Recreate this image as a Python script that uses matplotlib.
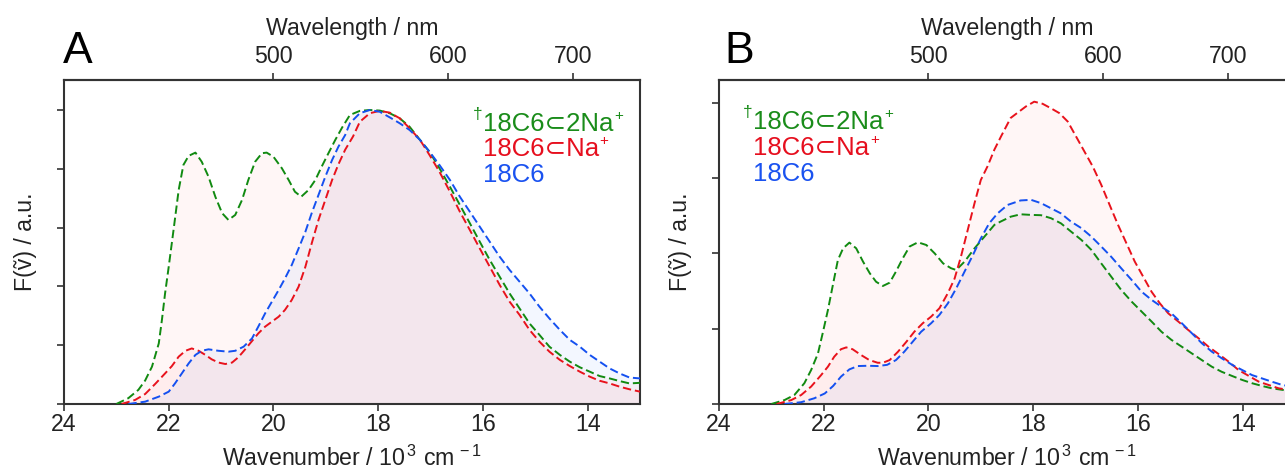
import numpy as np
import matplotlib
matplotlib.use("Agg")
import matplotlib.pyplot as plt

plt.rcParams['font.family'] = ['Liberation Sans', 'DejaVu Sans']
plt.rcParams['mathtext.fontset'] = 'custom'
plt.rcParams['mathtext.rm'] = 'Liberation Sans'
plt.rcParams['mathtext.it'] = 'Liberation Sans:italic'
plt.rcParams['mathtext.bf'] = 'Liberation Sans:bold'

# ---------------- data (wavenumber in 10^3 cm^-1, normalized intensity) -------------
# Panel A
a_green_x = [23.0, 22.77, 22.58, 22.45, 22.32, 22.19, 22.13, 22.07, 22.0, 21.9, 21.81, 21.72, 21.62,
             21.49, 21.37, 21.24, 21.11, 20.98, 20.86, 20.73, 20.6, 20.48, 20.35, 20.22, 20.13, 20.0,
             19.84, 19.71, 19.59, 19.47, 19.33, 19.2, 19.08, 18.95, 18.82, 18.69, 18.54, 18.35, 18.16,
             17.97, 17.78, 17.59, 17.4, 17.2, 17.02, 16.83, 16.63, 16.44, 16.25, 16.06, 15.87, 15.68,
             15.49, 15.3, 15.11, 14.92, 14.73, 14.53, 14.34, 14.15, 13.96, 13.77, 13.58, 13.39, 13.2, 13.0]
a_green_y = [0.0, 0.02, 0.048, 0.08, 0.127, 0.206, 0.286, 0.376, 0.467, 0.603, 0.728, 0.813, 0.844,
             0.855, 0.824, 0.773, 0.705, 0.649, 0.626, 0.643, 0.694, 0.762, 0.824, 0.853, 0.855, 0.841,
             0.802, 0.762, 0.722, 0.705, 0.728, 0.762, 0.807, 0.853, 0.898, 0.94, 0.983, 0.997, 1.0,
             0.998, 0.989, 0.972, 0.943, 0.898, 0.858, 0.802, 0.739, 0.677, 0.615, 0.552, 0.49, 0.433,
             0.376, 0.325, 0.274, 0.235, 0.195, 0.167, 0.144, 0.125, 0.11, 0.095, 0.087, 0.078, 0.07, 0.072]

a_red_x = [22.9, 22.64, 22.45, 22.26, 22.07, 21.94, 21.81, 21.68, 21.56, 21.43, 21.3, 21.18, 21.05,
           20.92, 20.79, 20.67, 20.54, 20.41, 20.29, 20.16, 20.03, 19.9, 19.78, 19.65, 19.52, 19.39,
           19.27, 19.14, 19.01, 18.88, 18.76, 18.63, 18.48, 18.35, 18.16, 17.97, 17.78, 17.59, 17.4,
           17.2, 17.02, 16.83, 16.63, 16.44, 16.25, 16.06, 15.87, 15.68, 15.49, 15.3, 15.11, 14.92,
           14.73, 14.53, 14.34, 14.15, 13.96, 13.77, 13.58, 13.39, 13.2, 13.0]
a_red_y = [0.0, 0.014, 0.034, 0.068, 0.104, 0.129, 0.161, 0.181, 0.189, 0.181, 0.167, 0.152, 0.141,
           0.136, 0.141, 0.159, 0.186, 0.214, 0.24, 0.263, 0.28, 0.297, 0.32, 0.354, 0.399, 0.467,
           0.546, 0.626, 0.694, 0.762, 0.815, 0.865, 0.91, 0.96, 0.989, 0.997, 0.991, 0.972, 0.938,
           0.898, 0.847, 0.79, 0.722, 0.654, 0.592, 0.529, 0.467, 0.405, 0.348, 0.303, 0.252, 0.212,
           0.178, 0.15, 0.129, 0.11, 0.093, 0.079, 0.07, 0.059, 0.05, 0.042]

a_blue_x = [22.77, 22.45, 22.19, 22.0, 21.88, 21.75, 21.62, 21.49, 21.37, 21.24, 21.05, 20.86, 20.73,
            20.57, 20.41, 20.29, 20.16, 20.03, 19.9, 19.78, 19.65, 19.52, 19.39, 19.27, 19.14, 19.01,
            18.88, 18.76, 18.63, 18.54, 18.35, 18.16, 17.97, 17.78, 17.59, 17.4, 17.2, 17.02, 16.83,
            16.63, 16.44, 16.25, 16.06, 15.87, 15.68, 15.49, 15.3, 15.11, 14.92, 14.73, 14.53, 14.34,
            14.15, 13.96, 13.77, 13.58, 13.39, 13.2, 13.0]
a_blue_y = [0.0, 0.008, 0.025, 0.042, 0.07, 0.104, 0.138, 0.167, 0.181, 0.186, 0.181, 0.178, 0.181,
            0.195, 0.223, 0.263, 0.308, 0.348, 0.388, 0.427, 0.473, 0.529, 0.586, 0.649, 0.711, 0.773,
            0.83, 0.875, 0.915, 0.955, 0.989, 1.0, 0.994, 0.975, 0.955, 0.932, 0.898, 0.858, 0.813,
            0.762, 0.705, 0.654, 0.603, 0.552, 0.501, 0.456, 0.416, 0.376, 0.331, 0.291, 0.252, 0.218,
            0.195, 0.167, 0.144, 0.121, 0.104, 0.09, 0.087]

# Panel B
b_green_x = [23.0, 22.75, 22.56, 22.37, 22.24, 22.11, 22.02, 21.92, 21.82, 21.73, 21.63, 21.51, 21.38,
             21.25, 21.12, 21.0, 20.87, 20.74, 20.62, 20.49, 20.36, 20.2, 20.04, 19.88, 19.72, 19.57,
             19.47, 19.31, 19.12, 18.93, 18.74, 18.62, 18.43, 18.24, 18.04, 17.85, 17.66, 17.47, 17.28,
             17.08, 16.89, 16.7, 16.51, 16.32, 16.12, 15.93, 15.74, 15.55, 15.36, 15.16, 14.97, 14.78,
             14.59, 14.4, 14.2, 14.01, 13.82, 13.63, 13.44, 13.24, 13.05]
b_green_y = [0.0, 0.013, 0.03, 0.069, 0.113, 0.168, 0.235, 0.312, 0.40, 0.478, 0.517, 0.536, 0.517,
             0.473, 0.434, 0.406, 0.392, 0.403, 0.44, 0.484, 0.523, 0.537, 0.528, 0.50, 0.467, 0.451,
             0.445, 0.473, 0.517, 0.556, 0.595, 0.606, 0.622, 0.63, 0.628, 0.627, 0.617, 0.60, 0.573,
             0.545, 0.512, 0.467, 0.423, 0.379, 0.34, 0.307, 0.274, 0.24, 0.213, 0.19, 0.168, 0.146,
             0.124, 0.107, 0.093, 0.08, 0.069, 0.06, 0.052, 0.047, 0.043]

b_red_x = [22.9, 22.62, 22.43, 22.24, 22.05, 21.92, 21.8, 21.67, 21.57, 21.45, 21.29, 21.13, 20.97,
           20.87, 20.74, 20.58, 20.42, 20.27, 20.11, 19.95, 19.79, 19.63, 19.5, 19.38, 19.25, 19.12,
           19.0, 18.87, 18.74, 18.61, 18.49, 18.43, 18.27, 18.14, 17.98, 17.82, 17.66, 17.5, 17.34,
           17.18, 17.02, 16.86, 16.7, 16.54, 16.38, 16.22, 16.06, 15.9, 15.74, 15.58, 15.42, 15.23,
           15.04, 14.84, 14.65, 14.46, 14.27, 14.08, 13.88, 13.69, 13.5, 13.31, 13.05]
b_red_y = [0.0, 0.013, 0.03, 0.058, 0.096, 0.124, 0.157, 0.182, 0.188, 0.182, 0.163, 0.146, 0.137,
           0.137, 0.146, 0.174, 0.207, 0.24, 0.268, 0.29, 0.318, 0.368, 0.417, 0.489, 0.578, 0.667,
           0.744, 0.79, 0.845, 0.89, 0.93, 0.95, 0.971, 0.988, 1.004, 0.997, 0.982, 0.966, 0.938,
           0.888, 0.838, 0.788, 0.728, 0.661, 0.595, 0.534, 0.473, 0.423, 0.373, 0.334, 0.301, 0.274,
           0.246, 0.218, 0.19, 0.166, 0.141, 0.113, 0.093, 0.074, 0.063, 0.052, 0.045]

b_blue_x = [22.75, 22.43, 22.18, 21.98, 21.82, 21.67, 21.51, 21.35, 21.16, 20.97, 20.79, 20.62, 20.46,
            20.3, 20.14, 19.95, 19.79, 19.63, 19.47, 19.31, 19.15, 19.0, 18.84, 18.68, 18.49, 18.24,
            18.04, 17.85, 17.66, 17.47, 17.28, 17.08, 16.89, 16.7, 16.51, 16.32, 16.12, 15.93, 15.74,
            15.55, 15.36, 15.16, 14.97, 14.78, 14.59, 14.4, 14.2, 14.01, 13.82, 13.63, 13.44, 13.24, 13.05]
b_blue_y = [0.0, 0.006, 0.019, 0.035, 0.06, 0.091, 0.115, 0.126, 0.127, 0.126, 0.13, 0.146, 0.174,
            0.207, 0.24, 0.268, 0.296, 0.334, 0.384, 0.44, 0.495, 0.55, 0.60, 0.633, 0.661, 0.676,
            0.678, 0.667, 0.65, 0.633, 0.606, 0.584, 0.556, 0.523, 0.489, 0.451, 0.412, 0.373, 0.346,
            0.323, 0.301, 0.268, 0.235, 0.202, 0.174, 0.152, 0.13, 0.113, 0.096, 0.085, 0.074, 0.063, 0.058]

series_labels = ["18C6\u22822Na", "18C6\u2282Na", "18C6"]
x_ticks = [24, 22, 20, 18, 16, 14]
nm_ticks = [500, 600, 700]
panel_letters = ["A", "B"]

# ---------------- style ----------------
GREEN, RED, BLUE = '#118a11', '#e8121c', '#1450f0'
TGREEN, TRED, TBLUE = '#1a8c1a', '#e60f1e', '#1a52f0'
SPINE = '#333333'
TXT = '#222222'
FS = 16.7

fig = plt.figure(figsize=(12.85, 4.70), dpi=100)
W, H = 1285.0, 470.0
axA = fig.add_axes([64 / W, 66 / H, 576 / W, 324 / H])
axB = fig.add_axes([719 / W, 66 / H, 576 / W, 324 / H])


def k2nm(k):
    k = np.asarray(k, dtype=float)
    with np.errstate(divide='ignore', invalid='ignore'):
        return np.where(k > 0, 1e4 / np.where(k > 0, k, 1.0), 1e9)


def style_axes(ax, ymax, yticks):
    ax.set_xlim(24, 13.0)
    ax.set_ylim(0, ymax)
    ax.set_xticks(x_ticks)
    ax.set_xticklabels([str(t) for t in x_ticks])
    ax.set_yticks(yticks)
    ax.set_yticklabels([])
    for s in ['left', 'bottom', 'top', 'right']:
        ax.spines[s].set_color(SPINE)
        ax.spines[s].set_linewidth(1.5)
    ax.tick_params(direction='out', length=5, width=1.2, color=SPINE,
                   labelsize=FS, labelcolor=TXT, pad=1.5)
    ax.set_xlabel('Wavenumber / 10$^{\\,3}$ cm$^{\\,-1}$', fontsize=FS, color=TXT, labelpad=7)
    ax.set_ylabel('F(\u1e7d) / a.u.', fontsize=FS, color=TXT, labelpad=13)
    sec = ax.secondary_xaxis('top', functions=(k2nm, k2nm))
    sec.set_xticks(nm_ticks)
    sec.set_xticklabels([str(t) for t in nm_ticks])
    sec.tick_params(direction='out', length=5, width=1.2, color=SPINE,
                    labelsize=FS, labelcolor=TXT, pad=3.5)
    sec.spines['top'].set_color(SPINE)
    sec.spines['top'].set_linewidth(1.5)
    sec.set_xlabel('Wavelength / nm', fontsize=FS, color=TXT, labelpad=7.5)


def draw_series(ax, xs, ys, lc, fc, fa):
    ax.fill_between(xs, 0, ys, color=fc, alpha=fa, linewidth=0, zorder=1)
    ax.plot(xs, ys, color=lc, lw=1.4, ls=(0, (4.3, 2.0)), zorder=3)


def draw_labels(ax, x0, ys):
    cols = [TGREEN, TRED, TBLUE]
    for i, (lab, c, yy) in enumerate(zip(series_labels, cols, ys)):
        t = ax.text(x0, yy, lab, transform=ax.transAxes, color=c, fontsize=18.5,
                    va='baseline', ha='left', zorder=5)
        if i < 2:
            ax.annotate('+', xy=(1, 1), xycoords=t, xytext=(0.5, 2.0),
                        textcoords='offset points', ha='left', va='top',
                        fontsize=11, color=c, zorder=5)
        if i == 0:
            ax.annotate('\u2020', xy=(0, 1), xycoords=t, xytext=(-0.5, 3.5),
                        textcoords='offset points', ha='right', va='top',
                        fontsize=12.5, color=c, zorder=5)


for ax, data, ymax, yt in [
    (axA, [(a_green_x, a_green_y), (a_red_x, a_red_y), (a_blue_x, a_blue_y)], 1.102,
     [0, 0.2, 0.4, 0.6, 0.8, 1.0]),
    (axB, [(b_green_x, b_green_y), (b_red_x, b_red_y), (b_blue_x, b_blue_y)], 1.076,
     [0, 0.25, 0.5, 0.75, 1.0]),
]:
    style_axes(ax, ymax, yt)
    (gx, gy), (rx, ry), (bx, by) = data
    draw_series(ax, gx, gy, GREEN, '#ff2020', 0.04)
    draw_series(ax, rx, ry, RED, '#ff2020', 0.04)
    draw_series(ax, bx, by, BLUE, '#1a73ff', 0.05)

draw_labels(axA, 0.727, [0.843, 0.765, 0.685])
draw_labels(axB, 0.059, [0.849, 0.769, 0.688])

fig.text(63 / W, 1 - 63 / H, panel_letters[0], fontsize=32, ha='left', va='baseline', color='black')
fig.text(724 / W, 1 - 63 / H, panel_letters[1], fontsize=32, ha='left', va='baseline', color='black')

fig.savefig('out.png', dpi=100)
